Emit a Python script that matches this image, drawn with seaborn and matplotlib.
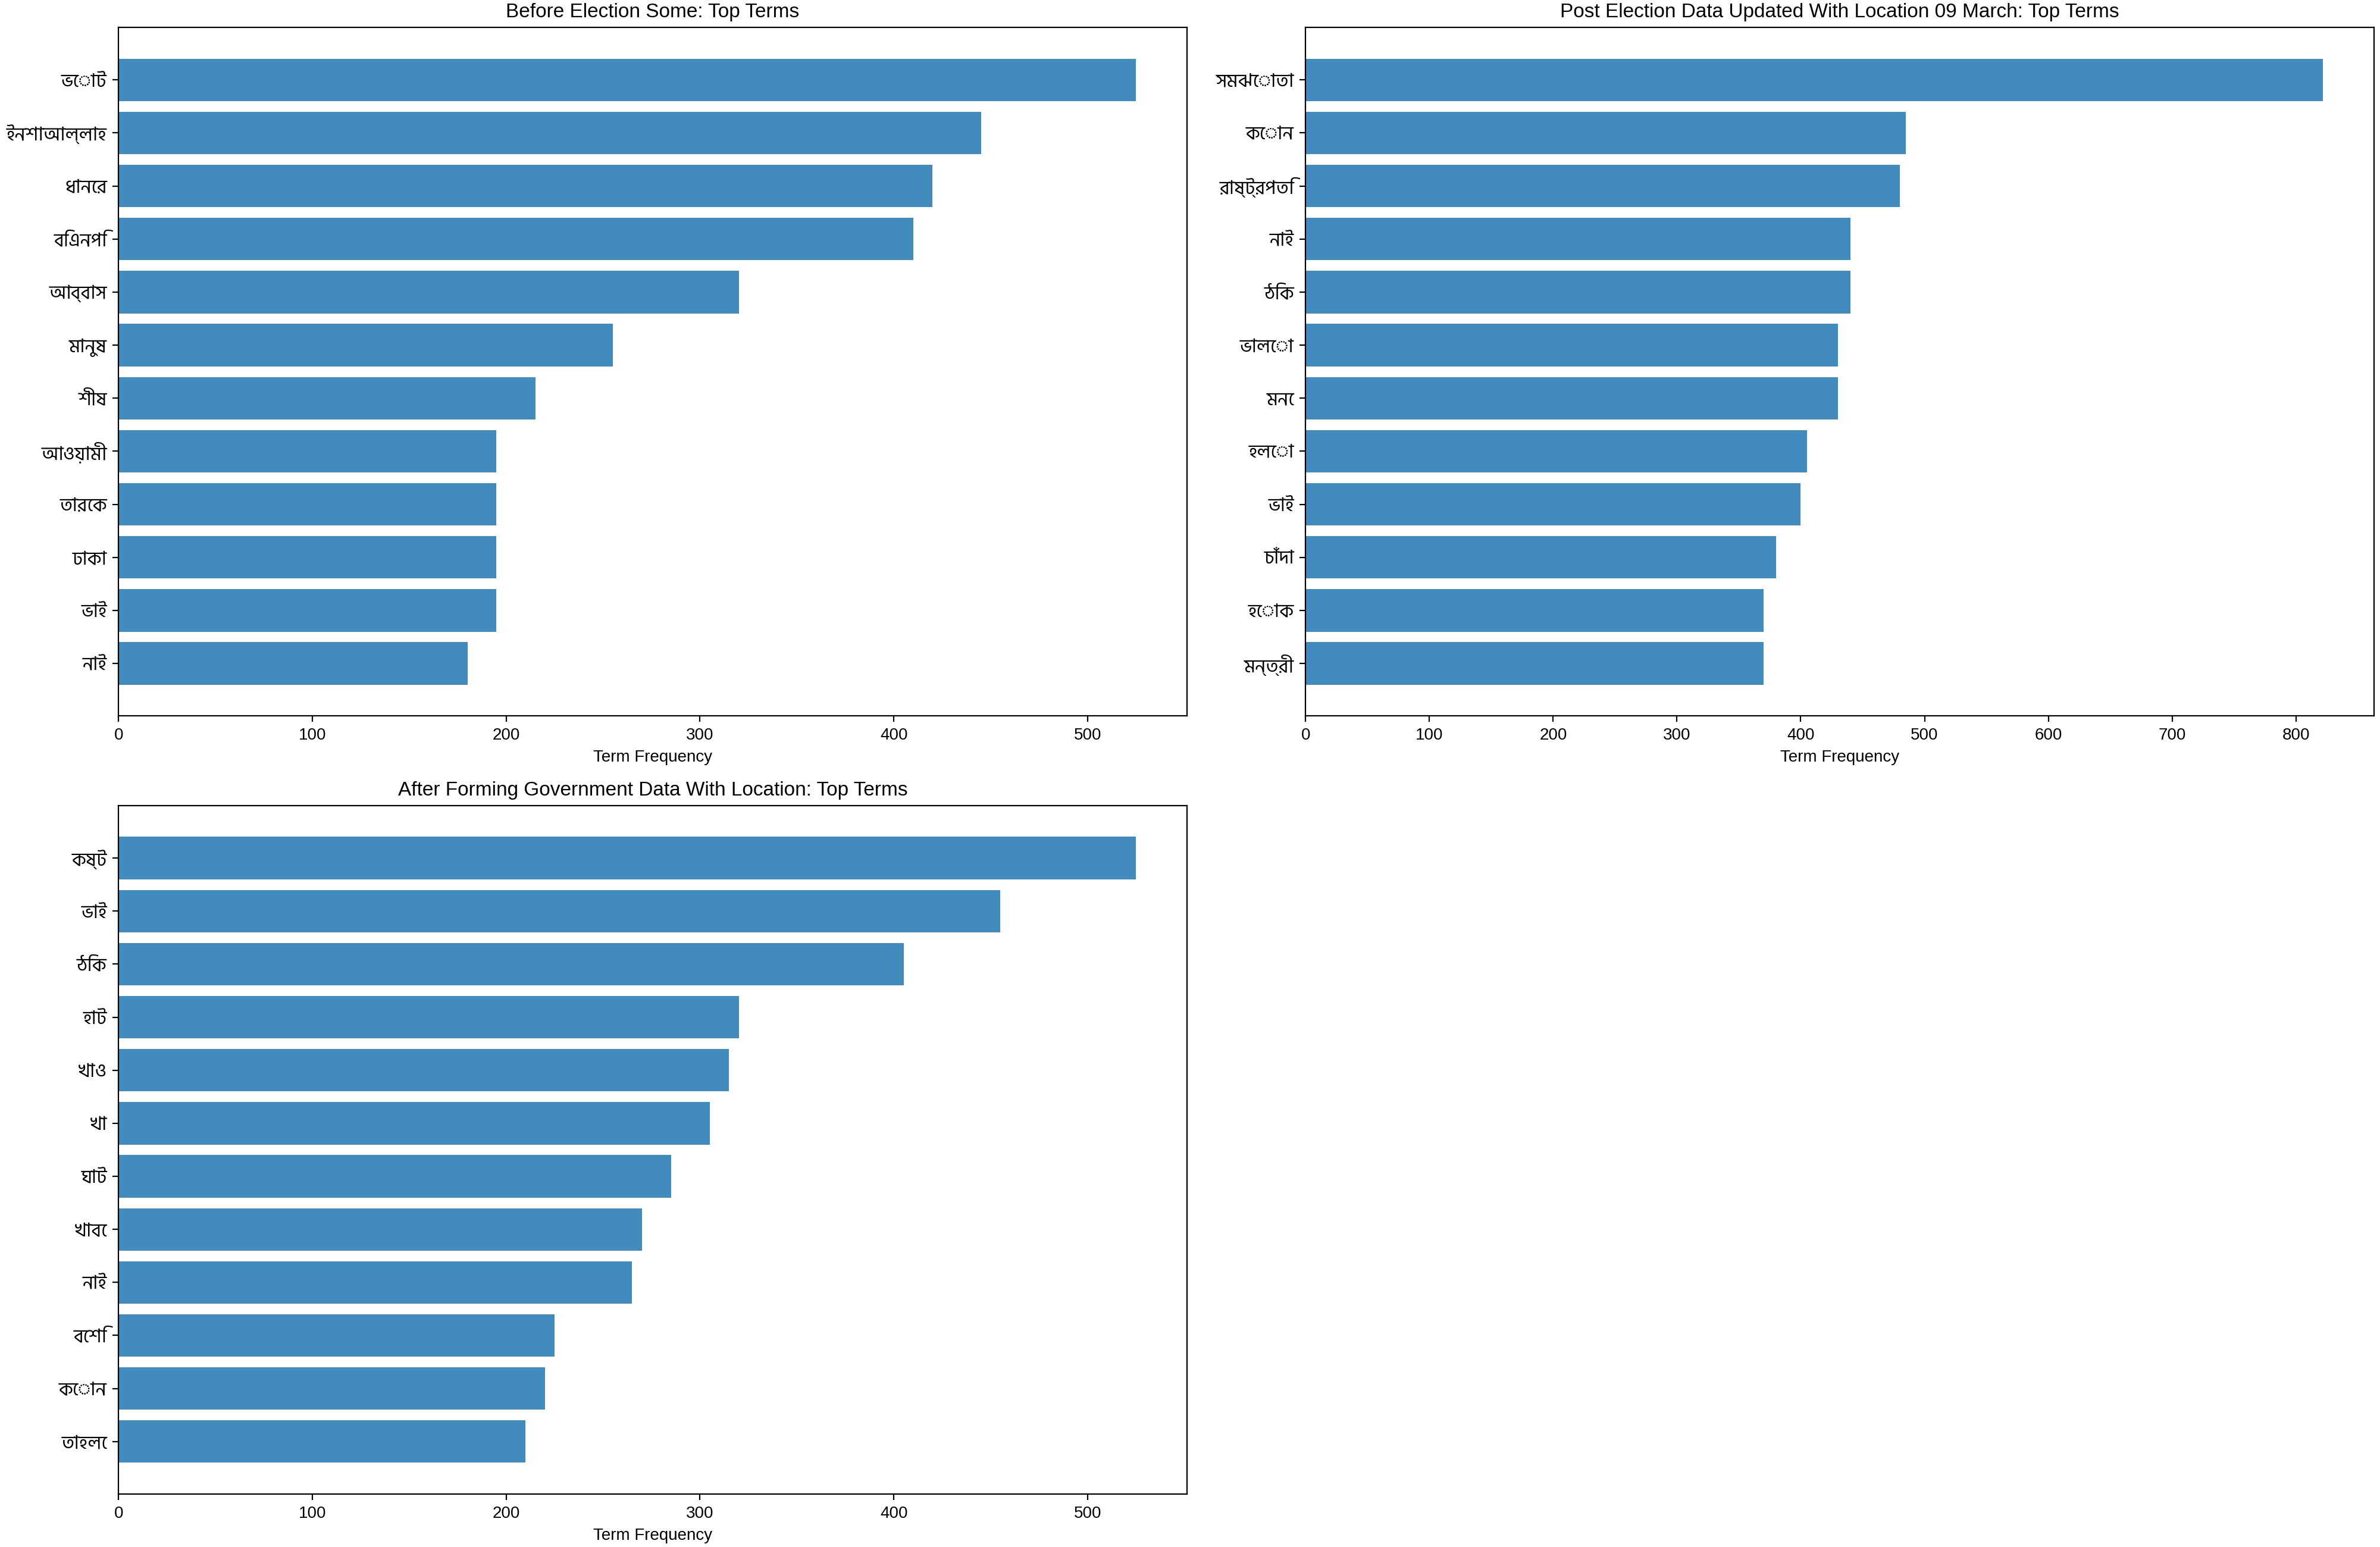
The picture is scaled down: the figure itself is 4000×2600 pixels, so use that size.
import pandas as pd
import seaborn as sns
import matplotlib.pyplot as plt

# Top terms per dataset (top bar first)
before_terms = ['ভোট', 'ইনশাআল্লাহ', 'ধানের', 'বিএনপি', 'আব্বাস', 'মানুষ',
                'শীষ', 'আওয়ামী', 'তারেক', 'ঢাকা', 'ভাই', 'নাই']
before_counts = [525, 445, 420, 410, 320, 255, 215, 195, 195, 195, 195, 180]

post_terms = ['সমঝোতা', 'কোন', 'রাষ্ট্রপতি', 'নাই', 'ঠিক', 'ভালো',
              'মনে', 'হলো', 'ভাই', 'চাঁদা', 'হোক', 'মন্ত্রী']
post_counts = [822, 485, 480, 440, 440, 430, 430, 405, 400, 380, 370, 370]

govt_terms = ['কষ্ট', 'ভাই', 'ঠিক', 'হাট', 'খাও', 'খা',
              'ঘাট', 'খাবে', 'নাই', 'বেশি', 'কোন', 'তাহলে']
govt_counts = [525, 455, 405, 320, 315, 305, 285, 270, 265, 225, 220, 210]

titles = ['Before Election Some: Top Terms',
          'Post Election Data Updated With Location 09 March: Top Terms',
          'After Forming Government Data With Location: Top Terms']

# Latin text in an Arial-like face, Bengali falls through to Hind Siliguri
plt.rcParams['font.family'] = ['Liberation Sans', 'Hind Siliguri', 'DejaVu Sans']


def draw(ax, terms, counts, title):
    df = pd.DataFrame({'term': terms, 'count': counts})
    sns.barplot(data=df, x='count', y='term', ax=ax, color='#1f77b4',
                saturation=1, alpha=0.85, width=0.8, linewidth=0)
    # matplotlib-style margins instead of seaborn's tight category limits
    n = len(terms)
    pad = 0.05 * (n - 0.2)
    ax.set_ylim(n - 0.6 + pad, -0.4 - pad)
    ax.set_title(title, fontsize=12)
    ax.set_xlabel('Term Frequency', fontsize=10)
    ax.set_ylabel('')
    ax.tick_params(axis='y', labelsize=11.5)


fig, axes = plt.subplots(2, 2, figsize=(20, 13))
draw(axes[0, 0], before_terms, before_counts, titles[0])
draw(axes[0, 1], post_terms, post_counts, titles[1])
draw(axes[1, 0], govt_terms, govt_counts, titles[2])
axes[1, 1].axis('off')

plt.subplots_adjust(left=0.0498, right=0.9975, top=0.9823, bottom=0.0342,
                    wspace=0.111, hspace=0.130)
plt.savefig('out.png', dpi=200)
